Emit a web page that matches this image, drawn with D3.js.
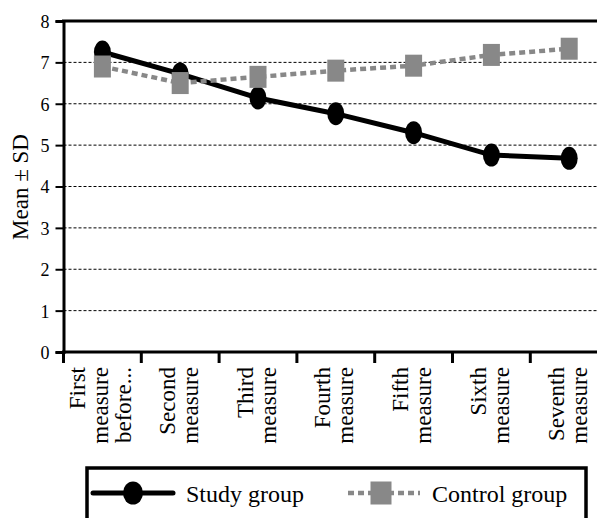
<!DOCTYPE html>
<html><head><meta charset="utf-8">
<script src="https://cdn.jsdelivr.net/npm/d3@7"></script>
<style>body{margin:0;background:#fff}svg{display:block}</style>
</head><body><svg id="c" width="597" height="518" font-family="'Liberation Serif', Tinos, 'Times New Roman', 'DejaVu Serif', serif"></svg>
<script>
const categories = [
  ["First","measure","before..."],
  ["Second","measure"],
  ["Third","measure"],
  ["Fourth","measure"],
  ["Fifth","measure"],
  ["Sixth","measure"],
  ["Seventh","measure"]
];
const studyGroup   = [7.25, 6.72, 6.14, 5.76, 5.30, 4.76, 4.68];
const controlGroup = [6.90, 6.50, 6.65, 6.80, 6.92, 7.18, 7.33];
const yTicks = [0,1,2,3,4,5,6,7,8];
const seriesNames = ["Study group","Control group"];

const FONT = "'Liberation Serif', Tinos, 'Times New Roman', 'DejaVu Serif', serif";
const svg = d3.select("#c");
const pLeft = 63.5, pTop = 21, pBottom = 352, step = 77.8;
const idx = categories.map((d,i)=>i);
const x = d3.scaleBand().domain(idx).range([pLeft, pLeft + step*categories.length]).paddingInner(0).paddingOuter(0);
const y = d3.scaleLinear().domain([0,8]).range([pBottom, pTop]);
const cx = i => x(i) + x.bandwidth()/2;
const gray = "#888888";

// gridlines
svg.append("g").selectAll("line").data(yTicks.filter(v=>v>0&&v<8)).join("line")
  .attr("x1", pLeft).attr("x2", 597).attr("y1", d=>y(d)).attr("y2", d=>y(d))
  .attr("stroke","#000").attr("stroke-width",1).attr("stroke-dasharray","3,2");

// top border
svg.append("line").attr("x1", pLeft-1.5).attr("x2", 597).attr("y1", y(8)).attr("y2", y(8))
  .attr("stroke","#000").attr("stroke-width",3);

// y axis
const ya = svg.append("g").attr("transform",`translate(${pLeft},0)`)
  .call(d3.axisLeft(y).tickValues(yTicks).tickSize(8).tickPadding(6).tickFormat(d3.format("d")));
ya.attr("font-family", FONT).attr("font-size", 18);
ya.select(".domain").attr("stroke-width",3);
ya.selectAll(".tick line").attr("stroke-width",2);
ya.selectAll(".tick text").attr("font-family", FONT).attr("font-size","18px").attr("fill","#000").attr("dy","0.36em");

// x axis
const xa = svg.append("g").attr("transform",`translate(0,${pBottom})`)
  .call(d3.axisBottom(x).tickSize(0).tickFormat(""));
xa.select(".domain").attr("stroke-width",3).attr("d",`M${pLeft-1.5},0H597`);
svg.append("g").selectAll("line").data(idx).join("line")
  .attr("x1", d=>x(d)).attr("x2", d=>x(d)).attr("y1", pBottom).attr("y2", pBottom+11)
  .attr("stroke","#000").attr("stroke-width",3);

// x labels
const lg = svg.append("g").selectAll("g").data(categories).join("g")
  .attr("transform",(d,i)=>`translate(${cx(i)},367) rotate(-90)`);
lg.each(function(lines){
  const n = lines.length;
  d3.select(this).selectAll("text").data(lines).join("text")
    .attr("x",0).attr("y",(t,j)=>6 + (j-(n-1)/2)*23)
    .attr("text-anchor","end").attr("font-family", FONT).attr("font-size","23px").text(t=>t);
});

// y title
svg.append("text").attr("transform","translate(28,187) rotate(-90)")
  .attr("text-anchor","middle").attr("font-family", FONT).attr("font-size","23px").text("Mean ± SD");

// lines
const line = d3.line().x((d,i)=>cx(i)).y(d=>y(d));
svg.append("path").datum(studyGroup).attr("d",line).attr("fill","none")
  .attr("stroke","#000").attr("stroke-width",5);
svg.append("path").datum(controlGroup).attr("d",line).attr("fill","none")
  .attr("stroke",gray).attr("stroke-width",4.5).attr("stroke-dasharray","6,4");

// markers
svg.append("g").selectAll("ellipse").data(studyGroup).join("ellipse")
  .attr("cx",(d,i)=>cx(i)).attr("cy",d=>y(d)).attr("rx",8.5).attr("ry",11.5).attr("fill","#000");
svg.append("g").selectAll("rect").data(controlGroup).join("rect")
  .attr("x",(d,i)=>cx(i)-8.5).attr("y",d=>y(d)-11).attr("width",17).attr("height",22).attr("fill",gray);

// legend
const leg = svg.append("g");
leg.append("rect").attr("x",87).attr("y",468).attr("width",499).attr("height",80)
  .attr("fill","none").attr("stroke","#000").attr("stroke-width",3.5);
leg.append("line").attr("x1",93).attr("x2",173).attr("y1",493).attr("y2",493)
  .attr("stroke","#000").attr("stroke-width",5).attr("stroke-linecap","round");
leg.append("ellipse").attr("cx",133).attr("cy",493).attr("rx",10).attr("ry",11.5).attr("fill","#000");
leg.append("text").attr("x",186).attr("y",502).attr("font-family", FONT).attr("font-size","24px").text(seriesNames[0]);
leg.append("line").attr("x1",348).attr("x2",420).attr("y1",493).attr("y2",493)
  .attr("stroke",gray).attr("stroke-width",4.5).attr("stroke-dasharray","6,4");
leg.append("rect").attr("x",370.5).attr("y",481.5).attr("width",21).attr("height",23).attr("fill",gray);
leg.append("text").attr("x",432).attr("y",502).attr("font-family", FONT).attr("font-size","24px").text(seriesNames[1]);
</script></body></html>
